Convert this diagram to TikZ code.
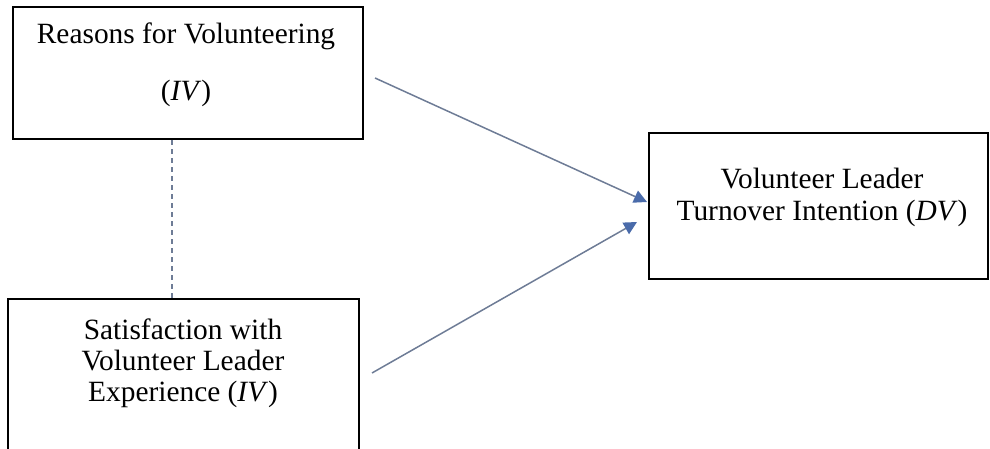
\documentclass[tikz,border=0pt]{standalone}
\usepackage{fontspec}
\setmainfont{Liberation Serif}
\usepackage{tikz}
\usetikzlibrary{arrows.meta}

\definecolor{arrowblue}{HTML}{4A6BAA}
\definecolor{linegray}{HTML}{6E7C96}

\tikzset{
	box/.style={draw=black, line width=1pt, minimum width=#1, inner sep=0pt},
	txt/.style={align=center, inner sep=0pt, font=\fontsize{14.7}{15.6}\selectfont},
	link/.style={draw=linegray, line width=0.75pt, -{Triangle[length=6.5pt,width=6.5pt,color=arrowblue]}},
}

\begin{document}
\begin{tikzpicture}[x=0.5pt,y=-0.5pt]
	\useasboundingbox (0,0) rectangle (990,449);
	\clip (0,0) rectangle (990,449);
	\node[box=175pt, minimum height=66pt] (rv) at (188,73) {};
	\node[box=175.5pt, minimum height=80pt] (sv) at (183.5,379) {};
	\node[box=169.5pt, minimum height=73pt] (dv) at (818.5,206) {};
	\node[txt] (rvtext) at (186,36) {Reasons for Volunteering};
	\node[txt] (rviv) at (186,93) {(\textit{IV})};
	\node[txt] (svtext) at (183,363) {Satisfaction with\\Volunteer Leader\\Experience (\textit{IV})};
	\node[txt] (dvtext) at (822,197.5) {Volunteer Leader\\Turnover Intention (\textit{DV})};
	\draw[linegray, line width=0.6pt, dash pattern=on 2.5pt off 2pt] ([xshift=-8pt]rv.south) -- ([xshift=-5.75pt]sv.north);
	\coordinate (rvout) at (375,78);
	\coordinate (svout) at (372,373);
	\coordinate (dvtop) at (647,202);
	\coordinate (dvbot) at (637,222);
	\draw[link] (rvout) -- (dvtop);
	\draw[link] (svout) -- (dvbot);
\end{tikzpicture}
\end{document}
